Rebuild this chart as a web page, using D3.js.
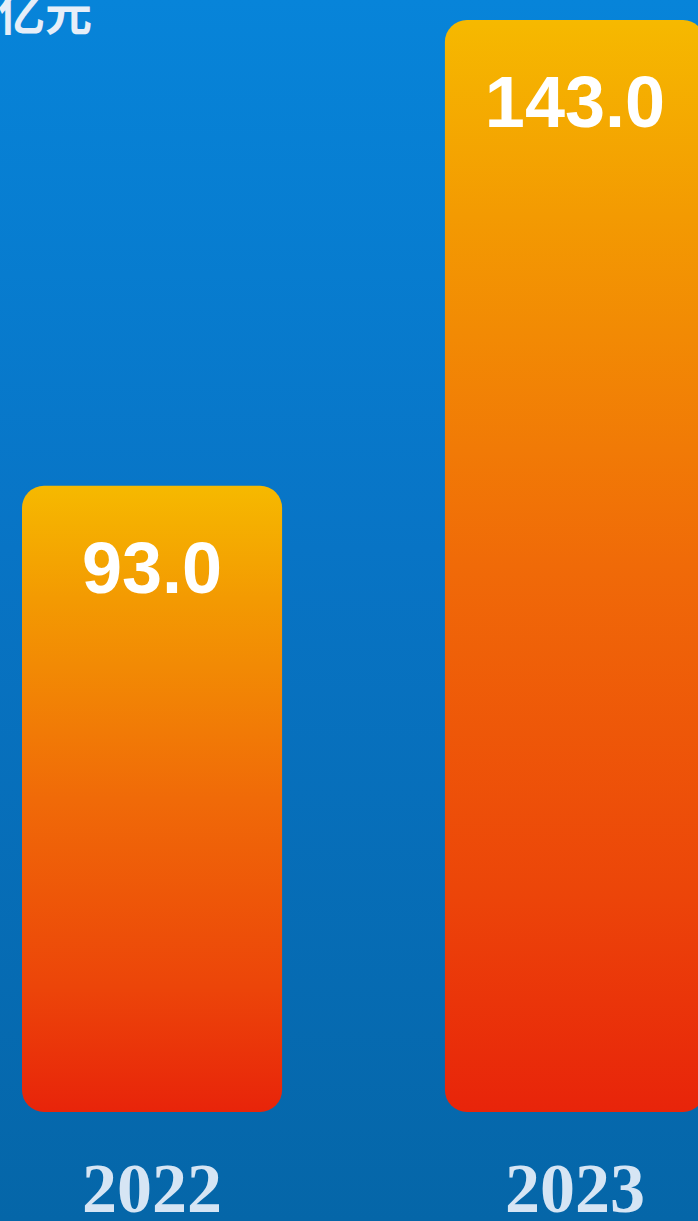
<!DOCTYPE html>
<html>
<head>
<meta charset="utf-8">
<script src="https://cdn.jsdelivr.net/npm/d3@7"></script>
<style>
  html, body { margin: 0; padding: 0; overflow: hidden; background: #0670b8; }
  svg { display: block; }
</style>
</head>
<body>
<svg id="chart" width="698" height="1221"></svg>
<script>
// Revenue by year (unit: 亿元)
const years = ["2022", "2023"];
const values = [93.0, 143.0];
const unitLabel = "亿元";

const W = 698, H = 1221;
const svg = d3.select("#chart");
const defs = svg.append("defs");

// Background: blue vertical gradient
const bg = defs.append("linearGradient").attr("id", "bg")
  .attr("x1", 0).attr("y1", 0).attr("x2", 0).attr("y2", 1);
bg.append("stop").attr("offset", "0%").attr("stop-color", "#0784d9");
bg.append("stop").attr("offset", "45%").attr("stop-color", "#0874c5");
bg.append("stop").attr("offset", "100%").attr("stop-color", "#0566a8");
svg.append("rect").attr("width", W).attr("height", H).attr("fill", "url(#bg)");

// Bar fill: amber at top fading to red at the base
const barGrad = defs.append("linearGradient").attr("id", "barGrad")
  .attr("x1", 0).attr("y1", 0).attr("x2", 0).attr("y2", 1);
barGrad.append("stop").attr("offset", "0%").attr("stop-color", "#f6b900");
barGrad.append("stop").attr("offset", "18%").attr("stop-color", "#f39a02");
barGrad.append("stop").attr("offset", "50%").attr("stop-color", "#f06a08");
barGrad.append("stop").attr("offset", "80%").attr("stop-color", "#ec4509");
barGrad.append("stop").attr("offset", "100%").attr("stop-color", "#e8240a");

const baseline = 1112;

const x = d3.scaleBand()
  .domain(years)
  .range([22, 705])
  .paddingInner(0.385)
  .paddingOuter(0);

const y = d3.scaleLinear()
  .domain([25.8, 143])
  .range([baseline, 20]);

const data = years.map((yr, i) => ({ year: yr, value: values[i] }));

const bars = svg.append("g").selectAll("g.bar")
  .data(data)
  .join("g")
  .attr("class", "bar");

bars.append("rect")
  .attr("x", d => x(d.year))
  .attr("y", d => y(d.value))
  .attr("width", x.bandwidth())
  .attr("height", d => baseline - y(d.value))
  .attr("rx", 22)
  .attr("ry", 22)
  .attr("fill", "url(#barGrad)");

// Value labels inside the top of each bar
bars.append("text")
  .attr("x", d => x(d.year) + x.bandwidth() / 2)
  .attr("y", d => y(d.value) + 107)
  .attr("text-anchor", "middle")
  .attr("font-family", "'Liberation Sans', Arial, sans-serif")
  .attr("font-weight", "bold")
  .attr("font-size", 72)
  .attr("fill", "#ffffff")
  .text(d => d.value.toFixed(1));

// Year labels along the bottom
svg.append("g").selectAll("text.year")
  .data(data)
  .join("text")
  .attr("class", "year")
  .attr("x", d => x(d.year) + x.bandwidth() / 2)
  .attr("y", 1212)
  .attr("text-anchor", "middle")
  .attr("font-family", "'Liberation Serif', 'Times New Roman', serif")
  .attr("font-weight", "bold")
  .attr("font-size", 70)
  .attr("fill", "#d6e5f4")
  .text(d => d.year);

// Unit label in the top-left corner
svg.append("text")
  .attr("x", -2)
  .attr("y", 30)
  .attr("font-family", "'Noto Sans CJK SC', sans-serif")
  .attr("font-weight", "bold")
  .attr("font-size", 47)
  .attr("fill", "#e6eef8")
  .text(unitLabel);
</script>
</body>
</html>
